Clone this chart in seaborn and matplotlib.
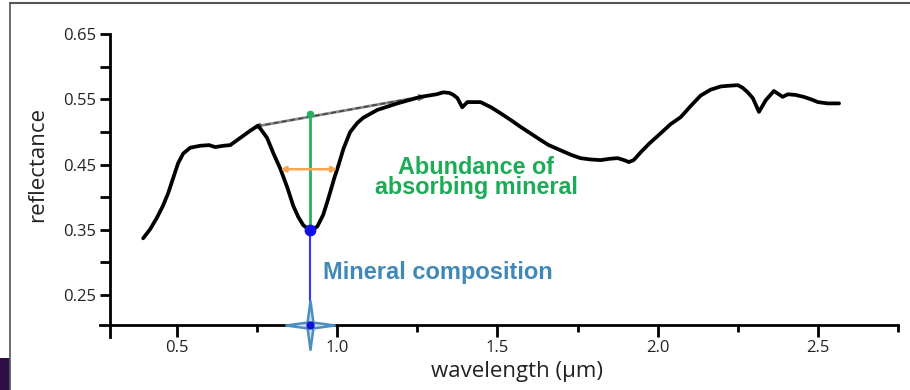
import numpy as np
import pandas as pd
import matplotlib
matplotlib.use("Agg")
import matplotlib.pyplot as plt
from matplotlib.path import Path
from matplotlib.lines import Line2D
from matplotlib.patches import Rectangle
import seaborn as sns

# ---- data ----
wavelength = [0.394, 0.416, 0.4375, 0.456, 0.472, 0.4875, 0.503, 0.519, 0.541, 0.572,
              0.60, 0.619, 0.645, 0.666, 0.697, 0.728, 0.753, 0.781, 0.80, 0.822,
              0.844, 0.8625, 0.878, 0.894, 0.916, 0.9375, 0.956, 0.972, 0.991, 1.003,
              1.019, 1.04, 1.0625, 1.081, 1.125, 1.1875, 1.26, 1.31, 1.331, 1.35,
              1.3625, 1.375, 1.39, 1.406, 1.447, 1.48, 1.509, 1.54, 1.572, 1.60,
              1.634, 1.66, 1.697, 1.73, 1.759, 1.79, 1.822, 1.85, 1.875, 1.895,
              1.91, 1.925, 1.947, 1.975, 2.009, 2.04, 2.072, 2.103, 2.134, 2.165,
              2.197, 2.22, 2.25, 2.265, 2.281, 2.297, 2.316, 2.3375, 2.3625, 2.375,
              2.39, 2.406, 2.43, 2.456, 2.48, 2.5, 2.53, 2.566]
reflectance = [0.337, 0.351, 0.369, 0.387, 0.406, 0.429, 0.452, 0.467, 0.476, 0.479,
               0.480, 0.477, 0.479, 0.480, 0.491, 0.502, 0.510, 0.491, 0.468, 0.444,
               0.415, 0.387, 0.370, 0.357, 0.349, 0.355, 0.373, 0.398, 0.430, 0.448,
               0.474, 0.500, 0.514, 0.522, 0.534, 0.544, 0.554, 0.558, 0.561, 0.560,
               0.557, 0.552, 0.538, 0.546, 0.546, 0.538, 0.529, 0.519, 0.508, 0.499,
               0.488, 0.480, 0.472, 0.465, 0.460, 0.458, 0.457, 0.459, 0.460, 0.457,
               0.454, 0.457, 0.469, 0.483, 0.498, 0.512, 0.523, 0.540, 0.556, 0.565,
               0.570, 0.571, 0.572, 0.568, 0.561, 0.552, 0.531, 0.549, 0.563, 0.559,
               0.554, 0.558, 0.557, 0.554, 0.550, 0.546, 0.544, 0.544]

continuum_w = [0.75, 1.26]
continuum_r = [0.509, 0.554]
band_center_w = 0.916
band_min_r = 0.349
band_top_r = 0.527
fwhm_w = [0.822, 1.0]
fwhm_r = 0.443

y_major = [0.25, 0.35, 0.45, 0.55, 0.65]
y_major_labels = ["0.25", "0.35", "0.45", "0.55", "0.65"]
y_minor = [0.30, 0.40, 0.50, 0.60]
x_major = [0.5, 1.0, 1.5, 2.0, 2.5]
x_major_labels = ["0.5", "1.0", "1.5", "2.0", "2.5"]
x_minor = [0.75, 1.25, 1.75, 2.25, 2.75]

df = pd.DataFrame({"wavelength": wavelength, "reflectance": reflectance})

sns.set_theme(style="white")
plt.rcParams["font.family"] = ["Open Sans", "DejaVu Sans"]

W, H = 910, 390
fig = plt.figure(figsize=(W / 100, H / 100), dpi=100)
L, R, T, B = 110, 898, 33, 325
ax = fig.add_axes([L / W, 1 - B / H, (R - L) / W, (B - T) / H])

x0 = 0.5 + (L - 177) / 320.0
ax.set_xlim(x0, 2.75)
ax.set_ylim(0.204, 0.652)

# continuum (gray solid + dark dashed)
ax.plot(continuum_w, continuum_r, color="#8a8a8a", lw=2.0, solid_capstyle="butt", zorder=3)
ax.plot(continuum_w, continuum_r, color="#444444", lw=1.2, ls=(0, (3, 2)), zorder=3)
ax.plot([continuum_w[0]], [continuum_r[0]], marker="<", color="#777777", ms=4, zorder=3)
ax.plot([continuum_w[1]], [continuum_r[1]], marker=">", color="#777777", ms=4, zorder=3)

# spectrum
sns.lineplot(data=df, x="wavelength", y="reflectance", ax=ax, color="black",
             lw=2.7, sort=False, estimator=None, zorder=4)

# green band depth line
ax.plot([band_center_w, band_center_w], [band_min_r, band_top_r], color="#27b060", lw=2.0, zorder=5)
ax.plot([band_center_w], [band_top_r], marker="o", color="#27b060", ms=4.5, zorder=6)

# orange width line
ax.annotate("", xy=(fwhm_w[0], fwhm_r), xytext=(fwhm_w[1], fwhm_r),
            arrowprops=dict(arrowstyle="<|-|>", color="#f6a552", lw=1.8,
                            mutation_scale=8, shrinkA=0, shrinkB=0), zorder=5)

# blue band-center line
ax.plot([band_center_w, band_center_w], [band_min_r, 0.204], color="#3333ff", lw=1.5,
        zorder=5, clip_on=False)
ax.plot([band_center_w], [band_min_r], marker="o", color="#1010ee", ms=7.5, zorder=7)

# star marker on axis
star = Path([(0, 1), (0.12, 0.12), (1, 0), (0.12, -0.12), (0, -1),
             (-0.12, -0.12), (-1, 0), (-0.12, 0.12), (0, 1)],
            [Path.MOVETO] + [Path.LINETO] * 7 + [Path.CLOSEPOLY])
ax.plot([band_center_w], [0.204], marker=star, ms=35, mfc="#cfe4f2", mec="#4a8fc0",
        mew=1.8, zorder=8, clip_on=False)
ax.plot([band_center_w], [0.204], marker="o", ms=5, color="#1010dd", zorder=9, clip_on=False)

# annotations
ax.text(1.434, 0.430, "Abundance of\nabsorbing mineral", color="#1aad55",
        fontsize=16.8, fontweight="bold", family="Liberation Sans",
        ha="center", va="center", linespacing=0.85, zorder=6)
ax.text(0.956, 0.285, "Mineral composition", color="#3f88b8",
        fontsize=17, fontweight="bold", family="Liberation Sans",
        ha="left", va="center", zorder=6)

# axes styling
for s in ["top", "right"]:
    ax.spines[s].set_visible(False)
for s in ["left", "bottom"]:
    ax.spines[s].set_linewidth(2.0)
    ax.spines[s].set_color("black")
ax.spines["bottom"].set_bounds(0.259, 2.75)
ax.spines["left"].set_bounds(0.186, 0.65)
ax.spines["bottom"].set_clip_on(False)
ax.spines["left"].set_clip_on(False)

ax.set_yticks(y_major)
ax.set_yticklabels(y_major_labels)
ax.set_yticks(y_minor, minor=True)
ax.set_xticks(x_major)
ax.set_xticklabels(x_major_labels)
ax.set_xticks(x_minor, minor=True)
ax.tick_params(axis="y", which="both", direction="out", length=7, width=2.0,
               color="black", labelsize=12, labelcolor="#222222", pad=3, left=True)
ax.tick_params(axis="x", which="major", direction="out", length=8.5, width=2.0,
               color="black", labelsize=12, labelcolor="#222222", pad=2, bottom=True)
ax.tick_params(axis="x", which="minor", direction="out", length=5, width=2.0,
               color="black", bottom=True)

ax.set_xlabel("wavelength (\u03bcm)", fontsize=16, color="#222222")
ax.set_ylabel("reflectance", fontsize=16, color="#222222")
ax.xaxis.set_label_coords((517 - L) / (R - L), (B - 372) / (B - T))
ax.xaxis.label.set_va("center")
ax.yaxis.set_label_coords((38 - L) / (R - L), (B - 164) / (B - T))
ax.yaxis.label.set_va("center")
ax.grid(False)

# slide frame and corner
fig.add_artist(Line2D([10 / W, 1], [1 - 3 / H, 1 - 3 / H], color="#555555", lw=1.5))
fig.add_artist(Line2D([10 / W, 10 / W], [0, 1 - 3 / H], color="#555555", lw=1.2))
fig.add_artist(Rectangle((0, 0), 10 / W, 32 / H, color="#2e0f45", lw=0))

fig.savefig("out.png", dpi=100)
